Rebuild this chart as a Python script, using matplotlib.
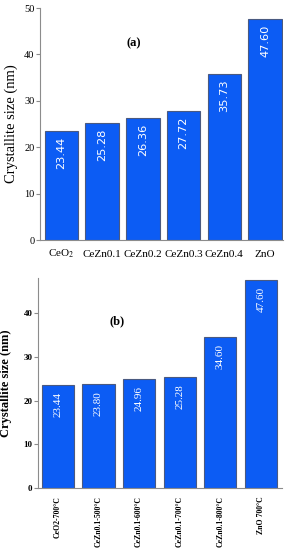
import numpy as np
import matplotlib
matplotlib.use("Agg")
import matplotlib.pyplot as plt

plt.rcParams['mathtext.fontset'] = 'stix'

# panel (a) data
cats_a = ["CeO$_2$", "CeZn0.1", "CeZn0.2", "CeZn0.3", "CeZn0.4", "ZnO"]
vals_a = [23.44, 25.28, 26.36, 27.72, 35.73, 47.60]

# panel (b) data
cats_b = ["CeO2-700°C", "CeZn0.1-500°C", "CeZn0.1-600°C",
          "CeZn0.1-700°C", "CeZn0.1-800°C", "ZnO 700°C"]
vals_b = [23.44, 23.80, 24.96, 25.28, 34.60, 47.60]

bar_color = "#0c5cf4"
edge_color = "#4a5a80"
spine_color = "#8c8c8c"
serif = "Liberation Serif"

fig = plt.figure(figsize=(2.89, 5.5), dpi=100)

# ---- panel (a)
ax1 = fig.add_axes([0.138, 0.5636, 0.841, 0.4218])
x = np.arange(len(vals_a))
ax1.bar(x, vals_a, width=0.82, color=bar_color, edgecolor=edge_color, linewidth=0.8)
for xi, v in zip(x, vals_a):
    ax1.annotate(f"{v:.2f}", (xi, v), xytext=(0, -4), textcoords="offset points",
                 rotation=90, ha="center", va="top", color="white",
                 fontsize=8.2, family="DejaVu Sans")
ax1.set_xlim(-0.53, 5.44)
ax1.set_ylim(0, 50)
ax1.set_yticks([0, 10, 20, 30, 40, 50])
ax1.set_xticks(x)
ax1.set_xticklabels(cats_a, fontsize=8, family=serif, va="baseline")
for lab in ax1.get_yticklabels():
    lab.set_family(serif)
    lab.set_fontsize(7.5)
ax1.tick_params(axis="x", length=0, pad=12)
ax1.tick_params(axis="y", length=3, color=spine_color, pad=1)
ax1.set_ylabel("Crystallite size (nm)", fontsize=10.5, family=serif, labelpad=4)
ax1.text(1.78, 41.8, "(a)", fontsize=9, fontweight="bold", family=serif, ha="center")
for s in ["top", "right"]:
    ax1.spines[s].set_visible(False)
for s in ["left", "bottom"]:
    ax1.spines[s].set_color(spine_color)

# ---- panel (b)
ax2 = fig.add_axes([0.1315, 0.1127, 0.844, 0.3818])
x = np.arange(len(vals_b))
ax2.bar(x, vals_b, width=0.79, color=bar_color, edgecolor=edge_color, linewidth=0.8)
for xi, v in zip(x, vals_b):
    ax2.annotate(f"{v:.2f}", (xi, v), xytext=(0, -5), textcoords="offset points",
                 rotation=90, ha="center", va="top", color="white",
                 fontsize=8, family=serif)
ax2.set_xlim(-0.49, 5.52)
ax2.set_ylim(0, 48)
ax2.set_yticks([0, 10, 20, 30, 40])
ax2.set_xticks(x)
ax2.set_xticklabels(cats_b, rotation=90, fontsize=5.6, fontweight="bold", family=serif)
for lab in ax2.get_yticklabels():
    lab.set_family(serif)
    lab.set_fontsize(6.5)
    lab.set_fontweight("bold")
ax2.tick_params(axis="x", length=0, pad=6)
ax2.tick_params(axis="y", length=3, color=spine_color, pad=1)
ax2.set_ylabel("Crystallite size (nm)", fontsize=9, fontweight="bold", family=serif, labelpad=8)
ax2.text(1.45, 37.5, "(b)", fontsize=9, fontweight="bold", family=serif, ha="center")
for s in ["top", "right"]:
    ax2.spines[s].set_visible(False)
for s in ["left", "bottom"]:
    ax2.spines[s].set_color(spine_color)

fig.savefig("out.png", dpi=100)
